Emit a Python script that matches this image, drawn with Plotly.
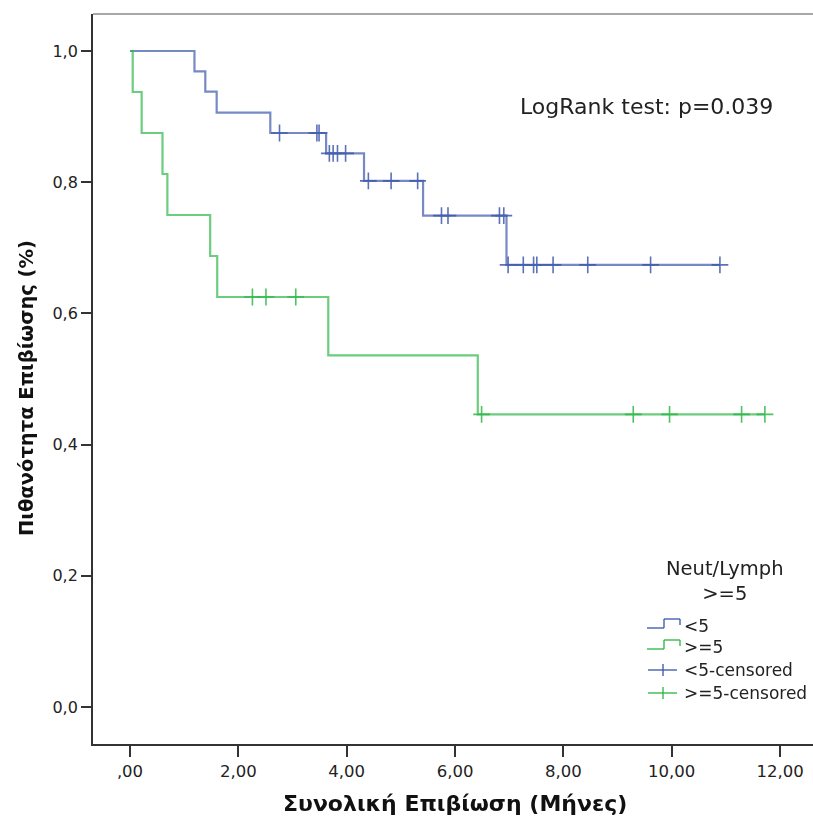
import numpy as np
import plotly.graph_objects as go

# ---------------- data ----------------
event_times_lt5 = [1.19, 1.39, 1.60, 2.59, 3.62, 4.32, 5.41, 6.95]
surv_lt5 = [0.969, 0.938, 0.906, 0.875, 0.844, 0.802, 0.749, 0.674]
censor_lt5 = [2.76, 3.45, 3.49, 3.68, 3.75, 3.83, 3.98, 4.40, 4.82, 5.31,
              5.75, 5.87, 6.82, 6.90, 6.98, 7.26, 7.45, 7.51, 7.81, 8.45,
              9.61, 10.89]

event_times_ge5 = [0.05, 0.215, 0.60, 0.69, 1.48, 1.61, 3.66, 6.42]
surv_ge5 = [0.9375, 0.875, 0.8125, 0.75, 0.6875, 0.625, 0.536, 0.446]
censor_ge5 = [2.26, 2.51, 3.06, 6.49, 9.29, 9.96, 11.29, 11.72]

x_tickvals = [0, 2, 4, 6, 8, 10, 12]
x_ticktext = [",00", "2,00", "4,00", "6,00", "8,00", "10,00", "12,00"]
y_tickvals = [0.0, 0.2, 0.4, 0.6, 0.8, 1.0]
y_ticktext = ["0,0", "0,2", "0,4", "0,6", "0,8", "1,0"]

legend_title = "Neut/Lymph<br>>=5"
legend_labels = ["<5", ">=5", "<5-censored", ">=5-censored"]
annotation_text = "LogRank test: p=0.039"
x_title = "Συνολική Επιβίωση (Μήνες)"
y_title = "Πιθανότητα Επιβίωσης (%)"

BLUE = "#3E58AC"
GREEN = "#2EB848"
FONT = "DejaVu Sans"

W, H = 813, 818
L, R, T, B = 93, 0, 14, 74
PW, PH = W - L - R, H - T - B


def px(xp):
    return (xp - L) / PW


def py(yp):
    return (H - B - yp) / PH


def km_path(times, surv, censors):
    end = max(max(censors), max(times))
    xs = [0.0] + list(times) + [end]
    ys = [1.0] + list(surv) + [surv[-1]]
    return xs, ys


def surv_at(times, surv, t):
    idx = np.searchsorted(np.array(times), np.array(t), side="right")
    vals = np.concatenate([[1.0], np.array(surv)])
    return vals[idx]


fig = go.Figure()

for times, surv, cens, col in [
    (event_times_lt5, surv_lt5, censor_lt5, BLUE),
    (event_times_ge5, surv_ge5, censor_ge5, GREEN),
]:
    xs, ys = km_path(times, surv, cens)
    fig.add_trace(go.Scatter(x=xs, y=ys, mode="lines", line_shape="hv",
                             line=dict(color=col, width=2.2), opacity=0.7,
                             showlegend=False, hoverinfo="skip"))
    fig.add_trace(go.Scatter(x=cens, y=surv_at(times, surv, cens), mode="markers",
                             marker=dict(symbol="cross-thin", size=12,
                                         line=dict(color=col, width=1.6)),
                             opacity=0.85, showlegend=False, hoverinfo="skip"))

shapes = []
# top frame line
shapes.append(dict(type="line", xref="paper", yref="paper", x0=0, x1=1, y0=1, y1=1,
                   line=dict(color="#8a8a8a", width=1.5)))

# manual legend icons
for i, col in enumerate([BLUE, GREEN]):
    dy = i * 21
    pts = [(647, 628 + dy), (664, 628 + dy), (664, 619 + dy), (680, 619 + dy), (680, 625 + dy)]
    for (xa, ya), (xb, yb) in zip(pts[:-1], pts[1:]):
        shapes.append(dict(type="line", xref="paper", yref="paper",
                           x0=px(xa), y0=py(ya), x1=px(xb), y1=py(yb),
                           line=dict(color=col, width=1.8), opacity=0.75))
for i, col in enumerate([BLUE, GREEN]):
    yc = 670 + i * 23
    shapes.append(dict(type="line", xref="paper", yref="paper",
                       x0=px(648), y0=py(yc), x1=px(677), y1=py(yc),
                       line=dict(color=col, width=1.8), opacity=0.75))
    shapes.append(dict(type="line", xref="paper", yref="paper",
                       x0=px(663), y0=py(yc - 6), x1=px(663), y1=py(yc + 6),
                       line=dict(color=col, width=1.8), opacity=0.75))

annotations = []
annotations.append(dict(text=annotation_text, xref="paper", yref="paper",
                        x=px(518), y=py(107), xanchor="left", yanchor="middle",
                        showarrow=False, font=dict(family=FONT, size=22, color="#222")))
annotations.append(dict(text=legend_title, xref="paper", yref="paper",
                        x=px(725), y=py(581), xanchor="center", yanchor="middle",
                        showarrow=False, font=dict(family=FONT, size=19.5, color="#222"),
                        align="center"))
for i, (lab, yc) in enumerate(zip(legend_labels, [626, 647, 670, 693])):
    annotations.append(dict(text=lab, xref="paper", yref="paper",
                            x=px(682), y=py(yc), xanchor="left", yanchor="middle",
                            showarrow=False, font=dict(family=FONT, size=17, color="#222")))
annotations.append(dict(text="<b>" + x_title + "</b>", xref="paper", yref="paper",
                        x=px(455), y=py(804), xanchor="center", yanchor="middle",
                        showarrow=False, font=dict(family=FONT, size=22, color="#111")))
annotations.append(dict(text="<b>" + y_title + "</b>", xref="paper", yref="paper",
                        x=px(26), y=py(388), xanchor="center", yanchor="middle",
                        textangle=-90,
                        showarrow=False, font=dict(family=FONT, size=19.5, color="#111")))

fig.update_layout(
    width=W, height=H, autosize=False,
    margin=dict(l=L, r=R, t=T, b=B, pad=0),
    plot_bgcolor="white", paper_bgcolor="white",
    shapes=shapes, annotations=annotations,
    xaxis=dict(range=[-0.683, 12.608], tickvals=x_tickvals, ticktext=x_ticktext,
               ticks="outside", ticklen=11, tickwidth=1.5, tickcolor="#333",
               showline=True, linecolor="#333", linewidth=1.8,
               showgrid=False, zeroline=False,
               tickfont=dict(family=FONT, size=16.5, color="#222")),
    yaxis=dict(range=[-0.0564, 1.0564], tickvals=y_tickvals, ticktext=y_ticktext,
               ticks="outside", ticklen=10, tickwidth=1.5, tickcolor="#333",
               showline=True, linecolor="#333", linewidth=1.8,
               showgrid=False, zeroline=False,
               tickfont=dict(family=FONT, size=16, color="#222")),
)

fig.write_html("out.html", config={"displayModeBar": False},
               post_script="document.body.style.margin='0';document.body.style.overflow='hidden';")
